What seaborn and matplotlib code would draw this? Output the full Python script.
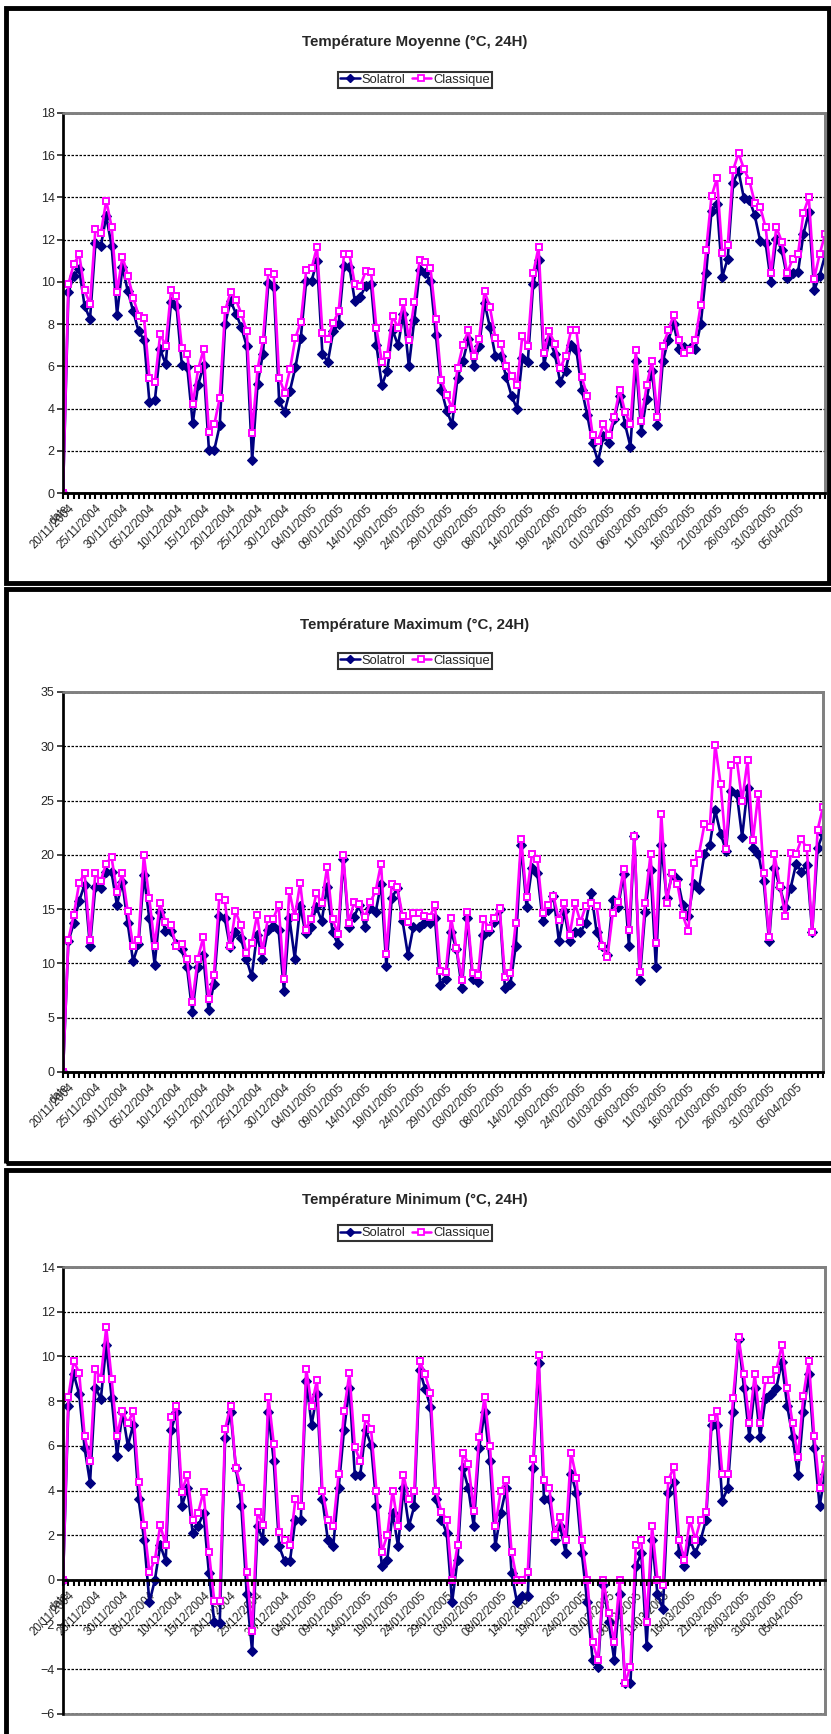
import matplotlib
matplotlib.use("Agg")
import matplotlib.pyplot as plt
from matplotlib.lines import Line2D
from matplotlib.patches import Rectangle
import seaborn as sns

# --- data ---
TICK_LABELS = ["date", "20/11/2004", "25/11/2004", "30/11/2004", "05/12/2004", "10/12/2004",
               "15/12/2004", "20/12/2004", "25/12/2004", "30/12/2004", "04/01/2005", "09/01/2005",
               "14/01/2005", "19/01/2005", "24/01/2005", "29/01/2005", "03/02/2005", "08/02/2005",
               "14/02/2005", "19/02/2005", "24/02/2005", "01/03/2005", "06/03/2005", "11/03/2005",
               "16/03/2005", "21/03/2005", "26/03/2005", "31/03/2005", "05/04/2005"]

SERIES = ["Solatrol", "Classique"]

moy_solatrol = [0,
    9.5, 10.3, 10.6, 8.85, 8.25, 11.85, 11.7, 13.1, 11.7, 8.45,
    10.7, 9.55, 8.6, 7.65, 7.25, 4.3, 4.4, 6.8, 6.1, 9.05,
    8.85, 6.05, 5.95, 3.3, 5.1, 6.05, 2.05, 2.05, 3.2, 8.0,
    9.1, 8.5, 7.85, 6.95, 1.55, 5.15, 6.6, 9.95, 9.75, 4.35,
    3.85, 4.85, 5.95, 7.35, 10.05, 10.05, 11.0, 6.6, 6.2, 7.65,
    8.0, 10.75, 10.7, 9.1, 9.3, 9.8, 9.9, 7.0, 5.1, 5.8,
    7.7, 7.0, 8.5, 6.0, 8.2, 10.55, 10.4, 10.05, 7.5, 4.9,
    3.9, 3.25, 5.45, 6.25, 7.3, 6.0, 6.95, 9.0, 7.85, 6.5,
    6.5, 5.5, 4.6, 4.0, 6.4, 6.2, 9.9, 11.05, 6.05, 7.25,
    6.6, 5.25, 5.8, 7.0, 6.75, 4.9, 3.7, 2.35, 1.5, 2.7,
    2.35, 3.5, 4.6, 3.25, 2.2, 6.25, 2.9, 4.45, 5.8, 3.2,
    6.25, 7.25, 8.0, 6.8, 6.9, 6.85, 6.8, 8.0, 10.4, 13.35,
    13.7, 10.25, 11.1, 14.7, 15.25, 13.95, 13.9, 13.15, 11.95, 11.85,
    10.0, 12.05, 11.5, 10.2, 10.4, 10.45, 12.25, 13.3, 9.6, 10.3, 11.25]
moy_classique = [0,
    9.9, 10.85, 11.3, 9.6, 8.95, 12.5, 12.3, 13.85, 12.6, 9.5,
    11.2, 10.3, 9.25, 8.4, 8.3, 5.45, 5.25, 7.55, 6.95, 9.6,
    9.35, 6.85, 6.6, 4.2, 5.85, 6.8, 2.9, 3.25, 4.5, 8.65,
    9.5, 9.15, 8.5, 7.65, 2.85, 5.85, 7.25, 10.45, 10.35, 5.45,
    4.75, 5.85, 7.35, 8.1, 10.55, 10.65, 11.65, 7.6, 7.3, 8.05,
    8.6, 11.3, 11.3, 9.9, 9.8, 10.5, 10.45, 7.8, 6.2, 6.55,
    8.4, 7.8, 9.05, 7.25, 9.05, 11.05, 10.95, 10.65, 8.25, 5.35,
    4.65, 4.0, 5.9, 7.0, 7.7, 6.5, 7.3, 9.55, 8.8, 7.35,
    7.05, 6.0, 5.55, 5.1, 7.45, 6.95, 10.4, 11.65, 6.65, 7.65,
    7.05, 5.9, 6.5, 7.7, 7.7, 5.5, 4.6, 2.75, 2.45, 3.25,
    2.75, 3.6, 4.9, 3.85, 3.25, 6.75, 3.4, 5.1, 6.25, 3.6,
    6.95, 7.7, 8.45, 7.25, 6.65, 6.75, 7.25, 8.9, 11.5, 14.05,
    14.9, 11.35, 11.75, 15.3, 16.1, 15.35, 14.8, 13.75, 13.55, 12.6,
    10.4, 12.6, 11.9, 10.4, 11.1, 11.3, 13.25, 14.0, 10.15, 11.3, 12.25]

max_solatrol = [0,
    12.05, 13.7, 15.75, 17.25, 11.6, 17.05, 16.95, 18.4, 18.4, 15.4,
    17.5, 13.7, 10.2, 11.75, 18.1, 14.2, 9.9, 14.75, 12.95, 12.95,
    11.8, 11.3, 9.65, 5.5, 9.65, 10.8, 5.75, 8.1, 14.35, 14.2,
    11.5, 12.85, 12.35, 10.45, 8.8, 12.65, 10.45, 13.1, 13.45, 13.05,
    7.45, 14.2, 10.45, 15.25, 12.8, 13.4, 15.2, 13.9, 17.05, 12.9,
    11.75, 19.6, 13.35, 14.3, 15.4, 13.35, 15.15, 14.7, 17.35, 9.75,
    16.0, 16.95, 13.9, 10.75, 13.35, 13.35, 13.7, 13.7, 14.2, 8.0,
    8.55, 12.9, 11.35, 7.7, 14.2, 8.6, 8.25, 12.6, 13.0, 13.8,
    15.05, 7.7, 8.1, 11.6, 20.9, 15.2, 18.8, 18.35, 13.9, 14.95,
    16.25, 12.05, 14.8, 12.05, 12.9, 12.9, 13.75, 16.5, 12.9, 11.6,
    10.8, 15.8, 15.2, 18.25, 11.6, 21.75, 8.5, 14.7, 18.65, 9.65,
    20.9, 16.0, 18.2, 17.8, 15.4, 14.4, 17.3, 16.9, 20.1, 20.95,
    24.1, 21.95, 20.4, 25.9, 25.65, 21.65, 26.15, 20.65, 20.1, 17.55,
    12.05, 18.8, 17.0, 15.2, 16.95, 19.15, 18.45, 19.1, 12.9, 20.65, 21.95]
max_classique = [0,
    12.2, 14.45, 17.4, 18.3, 12.2, 18.3, 17.6, 19.2, 19.8, 16.6,
    18.3, 14.8, 11.65, 12.2, 19.95, 16.05, 11.65, 15.55, 13.85, 13.5,
    11.65, 11.8, 10.4, 6.45, 10.4, 12.4, 6.7, 8.95, 16.1, 15.85,
    11.6, 14.8, 13.5, 10.95, 11.85, 14.45, 11.1, 14.1, 14.1, 15.35,
    8.6, 16.65, 14.25, 17.4, 13.1, 14.1, 16.45, 15.6, 18.85, 14.05,
    12.75, 19.95, 13.7, 15.65, 15.45, 14.25, 15.65, 16.65, 19.2, 10.85,
    17.35, 17.05, 14.35, 13.8, 14.65, 14.65, 14.35, 14.25, 15.35, 9.3,
    9.2, 14.2, 11.4, 8.45, 14.7, 9.1, 8.9, 14.1, 13.3, 14.2,
    15.15, 8.75, 9.15, 13.75, 21.5, 16.1, 20.05, 19.65, 14.65, 15.35,
    16.2, 14.0, 15.6, 12.6, 15.55, 13.8, 15.3, 15.6, 15.3, 11.65,
    10.55, 14.65, 15.65, 18.7, 13.1, 21.75, 9.25, 15.6, 20.05, 11.85,
    23.75, 15.6, 18.35, 17.3, 14.45, 12.95, 19.25, 20.1, 22.8, 22.6,
    30.15, 26.55, 20.55, 28.3, 28.75, 24.95, 28.7, 21.35, 25.65, 18.35,
    12.45, 20.05, 17.1, 14.4, 20.15, 20.05, 21.45, 20.6, 12.9, 22.3, 24.4]

min_solatrol = [0,
    7.8, 9.2, 8.3, 5.9, 4.35, 8.6, 8.1, 10.5, 8.15, 5.55,
    7.5, 6.0, 6.95, 3.6, 1.8, -1.0, 0.0, 1.55, 0.85, 6.7,
    7.5, 3.3, 4.1, 2.1, 2.4, 3.0, 0.3, -1.9, -1.95, 6.35,
    7.5, 5.0, 3.3, -0.65, -3.2, 2.4, 1.8, 7.5, 5.3, 1.5,
    0.85, 0.85, 2.7, 2.7, 8.9, 6.95, 8.3, 3.6, 1.8, 1.5,
    4.1, 6.7, 8.6, 4.7, 4.7, 6.7, 6.05, 3.3, 0.6, 0.9,
    3.0, 1.5, 4.1, 2.4, 3.3, 9.4, 8.55, 7.75, 3.6, 2.7,
    2.1, -1.0, 0.9, 5.0, 4.1, 2.4, 5.9, 7.5, 5.3, 1.5,
    3.0, 4.1, 0.3, -1.0, -0.7, -0.7, 5.0, 9.7, 3.6, 3.6,
    1.8, 2.4, 1.2, 4.75, 3.9, 1.2, -1.0, -3.6, -3.9, -0.25,
    -1.9, -3.6, -0.65, -4.6, -4.6, 0.6, 1.2, -2.95, 1.8, -0.65,
    -1.3, 3.9, 4.4, 1.2, 0.6, 1.8, 1.2, 1.8, 2.7, 6.95,
    6.95, 3.55, 4.1, 7.5, 10.8, 8.6, 6.4, 8.6, 6.4, 8.15,
    8.3, 8.6, 9.75, 7.8, 6.4, 4.7, 7.5, 9.2, 5.9, 3.3, 4.75]
min_classique = [0,
    8.2, 9.8, 9.25, 6.45, 5.3, 9.45, 9.0, 11.3, 9.0, 6.45,
    7.55, 7.0, 7.55, 4.4, 2.45, 0.35, 0.9, 2.45, 1.55, 7.3,
    7.8, 3.95, 4.7, 2.7, 3.0, 3.95, 1.25, -0.95, -0.95, 6.75,
    7.8, 5.0, 4.1, 0.35, -2.3, 3.05, 2.45, 8.2, 6.1, 2.15,
    1.8, 1.55, 3.6, 3.3, 9.45, 7.8, 8.95, 4.0, 2.7, 2.4,
    4.75, 7.55, 9.25, 5.95, 5.3, 7.25, 6.75, 4.0, 1.25, 2.0,
    4.0, 2.4, 4.7, 3.6, 4.0, 9.8, 9.2, 8.35, 4.0, 3.05,
    2.7, 0.0, 1.55, 5.7, 5.2, 3.1, 6.4, 8.2, 6.0, 2.4,
    4.0, 4.45, 1.25, 0.0, 0.0, 0.35, 5.4, 10.05, 4.45, 4.1,
    2.0, 2.8, 1.8, 5.7, 4.55, 1.8, 0.0, -2.8, -3.6, 0.0,
    -1.5, -2.8, 0.0, -4.6, -3.9, 1.55, 1.8, -1.9, 2.4, 0.0,
    -0.25, 4.45, 5.05, 1.8, 0.9, 2.7, 1.8, 2.7, 3.05, 7.25,
    7.55, 4.75, 4.75, 8.15, 10.85, 9.2, 7.0, 9.2, 7.0, 8.95,
    8.95, 9.4, 10.5, 8.6, 7.0, 5.5, 8.25, 9.8, 6.45, 4.1, 5.4]

TITLES = ["Température Moyenne (°C, 24H)",
          "Température Maximum (°C, 24H)",
          "Température Minimum (°C, 24H)"]

# --- style ---
NAVY = "#000080"
MAGENTA = "#FF00FF"
W, H = 831, 1734

sns.set_style("white")
plt.rcParams["font.family"] = ["Liberation Sans", "DejaVu Sans"]


def fx(px):
    return px / W


def fy(py):
    return 1 - py / H


def draw_panel(fig, title, box, rect, title_y, legend_y, sol, cla, ylim, ystep, cross_zero=False):
    # black frame around the whole chart
    x0, y0, x1, y1 = box
    fig.patches.append(Rectangle((fx(x0), fy(y1)), fx(x1 - x0), (y1 - y0) / H,
                                 transform=fig.transFigure, fill=False,
                                 edgecolor="black", linewidth=3.5))

    left, top, right, bottom = rect
    ax = fig.add_axes([fx(left), fy(bottom), fx(right - left), (bottom - top) / H])

    # spine position must be set before tick styling (it resets the ticks)
    if cross_zero:
        ax.spines["bottom"].set_position(("data", 0))

    x = list(range(len(sol)))
    sns.lineplot(x=x, y=sol, ax=ax, color=NAVY, linewidth=1.9, marker="D",
                 markersize=4.8, markeredgecolor=NAVY, markerfacecolor=NAVY,
                 estimator=None, sort=False)
    sns.lineplot(x=x, y=cla, ax=ax, color=MAGENTA, linewidth=1.9, marker="s",
                 markersize=4.3, markeredgecolor=MAGENTA, markerfacecolor="white",
                 markeredgewidth=1.4, estimator=None, sort=False)

    ax.set_xlim(0, len(sol) - 1)
    ax.set_ylim(*ylim)
    ax.set_yticks(range(ylim[0], ylim[1] + 1, ystep))
    ax.set_xlabel("")
    ax.set_ylabel("")

    tick_pos = [0] + [1 + 5 * k for k in range(len(TICK_LABELS) - 1)]
    ax.set_xticks(tick_pos)
    ax.set_xticklabels(TICK_LABELS, rotation=45, ha="right", va="top",
                       rotation_mode="anchor", fontsize=8.3)
    ax.set_xticks(x, minor=True)
    ax.tick_params(axis="x", which="both", direction="out", length=4, width=1.5,
                   color="black", bottom=True, pad=3)
    ax.tick_params(axis="y", direction="out", length=4, width=1.2, labelsize=9,
                   left=True, pad=2)

    ax.yaxis.grid(True, color="black", linestyle=(0, (2, 1.2)), linewidth=0.9)
    ax.set_axisbelow(True)

    ax.patch.set_edgecolor("#808080")
    ax.patch.set_linewidth(2)
    for s in ["top", "right"]:
        ax.spines[s].set_color("#808080")
        ax.spines[s].set_linewidth(1.8)
    ax.spines["left"].set_color("black")
    ax.spines["left"].set_linewidth(1.8)
    ax.spines["bottom"].set_color("black")
    ax.spines["bottom"].set_linewidth(2)

    fig.text(fx(415), fy(title_y), title, ha="center", va="center",
             fontsize=10.8, fontweight="bold")

    handles = [Line2D([], [], color=NAVY, linewidth=1.8, marker="D", markersize=4.5),
               Line2D([], [], color=MAGENTA, linewidth=1.8, marker="s", markersize=4,
                      markerfacecolor="white", markeredgewidth=1.3)]
    leg = ax.legend(handles, SERIES, loc="center", bbox_to_anchor=(fx(415), fy(legend_y)),
                    bbox_transform=fig.transFigure, ncol=2, frameon=True, fancybox=False,
                    edgecolor="black", fontsize=9.3, handlelength=1.5, handletextpad=0.15,
                    columnspacing=0.5, borderpad=0.15, borderaxespad=0)
    leg.get_frame().set_linewidth(1.5)
    return ax


fig = plt.figure(figsize=(W / 100, H / 100), dpi=100)

draw_panel(fig, TITLES[0], (6, 8, 829, 583), (63, 113, 825, 493), 42, 80,
           moy_solatrol, moy_classique, (0, 18), 2)
draw_panel(fig, TITLES[1], (6, 589, 834, 1163), (63, 692, 823, 1072), 625, 661,
           max_solatrol, max_classique, (0, 35), 5)
draw_panel(fig, TITLES[2], (6, 1170, 834, 1745), (63, 1267, 825, 1714), 1200, 1233,
           min_solatrol, min_classique, (-6, 14), 2, cross_zero=True)

fig.savefig("out.png", dpi=100)
